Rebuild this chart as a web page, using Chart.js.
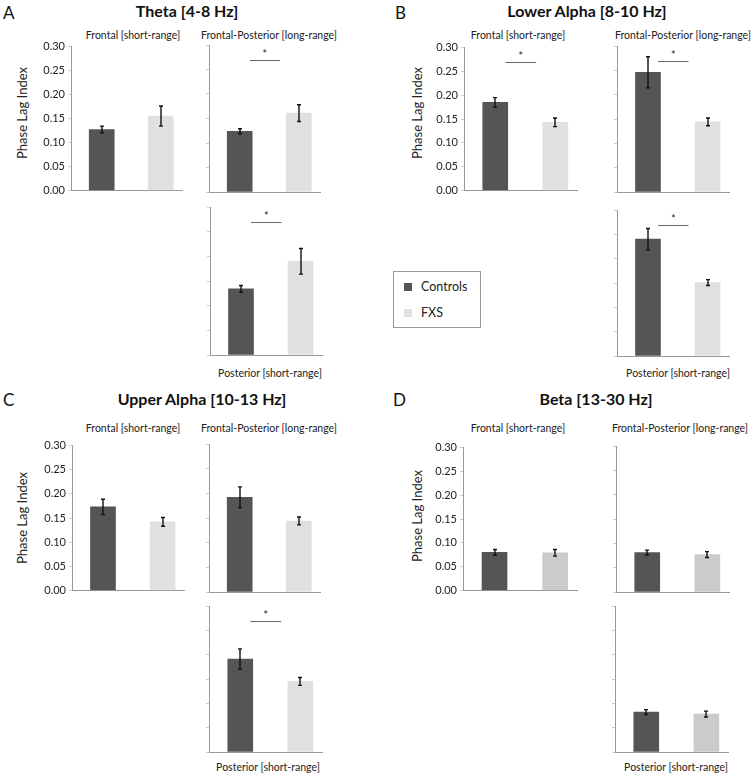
<!DOCTYPE html>
<html>
<head>
<meta charset="utf-8">
<script src="https://cdn.jsdelivr.net/npm/chart.js@4"></script>
<style>
body { margin: 0; background: #fff; font-family: Lato, sans-serif; }
#fig { position: relative; width: 753px; height: 776px; overflow: hidden; }
.t { position: absolute; white-space: nowrap; color: #111; line-height: 1; }
.letter { font-size: 17px; transform: translateY(-50%); }
.title { font-size: 16px; font-weight: bold; transform: translate(-50%, -50%); }
.sub { font-size: 10.5px; transform: translate(-50%, -50%); color: #222; }
.ylab { font-size: 13px; transform: translate(-50%, -50%) rotate(-90deg); color: #222; }
canvas { position: absolute; }
#legend { position: absolute; left: 393px; top: 271px; width: 86px; height: 55px; border: 1px solid #999; }
#legend .sq { position: absolute; width: 8px; height: 8px; left: 10px; }
#legend .lt { position: absolute; left: 27px; font-size: 12.5px; color: #222; transform: translateY(-50%); }
</style>
</head>
<body>
<div id="fig">
  <div id="legend">
    <div class="sq" style="top:11px;background:#555555"></div><div class="lt" style="top:14px">Controls</div>
    <div class="sq" style="top:37px;background:#e0e0e0"></div><div class="lt" style="top:40px">FXS</div>
  </div>
</div>
<script>
// données
const letters = ['A', 'B', 'C', 'D'];
const bands = ['Theta [4-8 Hz]', 'Lower Alpha [8-10 Hz]', 'Upper Alpha [10-13 Hz]', 'Beta [13-30 Hz]'];
const regions = ['Frontal [short-range]', 'Frontal-Posterior [long-range]', 'Posterior [short-range]'];
const groups = ['Controls', 'FXS'];
const groupX = [1, 2];
const yTicks = [0, 0.05, 0.10, 0.15, 0.20, 0.25, 0.30];

// une ligne par bande : [frontal, fronto-postérieur, postérieur]
const controlsMean = [[0.127, 0.124, 0.134], [0.185, 0.246, 0.240], [0.173, 0.192, 0.191], [0.080, 0.081, 0.082]];
const controlsErr  = [[0.007, 0.005, 0.007], [0.010, 0.032, 0.022], [0.016, 0.021, 0.021], [0.006, 0.005, 0.005]];
const fxsMean      = [[0.155, 0.161, 0.190], [0.143, 0.144, 0.151], [0.142, 0.144, 0.145], [0.079, 0.077, 0.078]];
const fxsErr       = [[0.021, 0.017, 0.026], [0.009, 0.008, 0.006], [0.009, 0.008, 0.008], [0.007, 0.006, 0.006]];
const significant  = [[false, true, true], [true, true, true], [false, false, true], [false, false, false]];

// mise en page (pixels)
const controlsColor = '#555555';
const fxsColors = ['#e0e0e0', '#e0e0e0', '#e0e0e0', '#cbcbcb'];
const panels = [
  { letter: [3, 12], title: [187, 11], ylab: [22, 113], subs: [[133, 35], [269, 35], [270, 373]],
    plots: [{ ax: 71, top: 45, bottom: 192, right: 182 }, { ax: 209, top: 45, bottom: 192, right: 320 }, { ax: 210, top: 207, bottom: 355, right: 322 }] },
  { letter: [395, 12], title: [587, 11], ylab: [417, 113], subs: [[518, 35], [683, 35], [678, 373]],
    plots: [{ ax: 464, top: 46, bottom: 192, right: 577 }, { ax: 617, top: 46, bottom: 192, right: 729 }, { ax: 617, top: 210, bottom: 356, right: 729 }] },
  { letter: [3, 399], title: [202, 399], ylab: [22, 518], subs: [[133, 428], [269, 428], [268, 767]],
    plots: [{ ax: 72, top: 444, bottom: 592, right: 184 }, { ax: 209, top: 444, bottom: 592, right: 320 }, { ax: 209, top: 606, bottom: 752, right: 322 }] },
  { letter: [393, 399], title: [596, 399], ylab: [417, 516], subs: [[518, 428], [680, 428], [676, 767]],
    plots: [{ ax: 463, top: 446, bottom: 592, right: 577 }, { ax: 616, top: 446, bottom: 592, right: 729 }, { ax: 615, top: 606, bottom: 752, right: 728 }] }
];

const fig = document.getElementById('fig');

function addText(cls, txt, pos) {
  let d = document.createElement('div');
  d.className = 't ' + cls;
  d.textContent = txt;
  d.style.left = pos[0] + 'px';
  d.style.top = pos[1] + 'px';
  fig.appendChild(d);
}

// barres d'erreur
function errorBars(b, r) {
  return {
    id: 'errorBars',
    afterDatasetsDraw(chart) {
      let ctx = chart.ctx, ys = chart.scales.y;
      let means = [controlsMean[b][r], fxsMean[b][r]];
      let errs = [controlsErr[b][r], fxsErr[b][r]];
      ctx.save();
      ctx.strokeStyle = '#111';
      ctx.lineWidth = 1.4;
      chart.getDatasetMeta(0).data.forEach((bar, i) => {
        let x = Math.round(bar.x);
        let y1 = ys.getPixelForValue(means[i] + errs[i]);
        let y2 = ys.getPixelForValue(means[i] - errs[i]);
        ctx.beginPath();
        ctx.moveTo(x, y1); ctx.lineTo(x, y2);
        ctx.moveTo(x - 2, y1); ctx.lineTo(x + 2, y1);
        ctx.moveTo(x - 2, y2); ctx.lineTo(x + 2, y2);
        ctx.stroke();
      });
      ctx.restore();
    }
  };
}

// trait + étoile de significativité
function sigMark(b, r) {
  return {
    id: 'sigMark',
    afterDraw(chart) {
      if (!significant[b][r]) return;
      let ctx = chart.ctx, xs = chart.scales.x, ys = chart.scales.y;
      let x1 = xs.getPixelForValue(1.17), x2 = xs.getPixelForValue(1.68);
      let y = Math.round(ys.getPixelForValue(0.27)) + 0.5;
      ctx.save();
      ctx.strokeStyle = '#666';
      ctx.lineWidth = 1;
      ctx.beginPath(); ctx.moveTo(x1, y); ctx.lineTo(x2, y); ctx.stroke();
      ctx.fillStyle = '#222';
      ctx.font = '11px Lato';
      ctx.textAlign = 'center';
      ctx.textBaseline = 'middle';
      ctx.fillText('*', (x1 + x2) / 2, y - 6);
      ctx.restore();
    }
  };
}

function makePlot(b, r, pos) {
  let labeled = r === 0;
  let yw = labeled ? 40 : 4;
  let plotW = pos.right - pos.ax, plotH = pos.bottom - pos.top;
  let cv = document.createElement('canvas');
  cv.width = yw + plotW + 4;
  cv.height = plotH + 16;
  cv.style.left = (pos.ax - yw) + 'px';
  cv.style.top = (pos.top - 8) + 'px';
  fig.appendChild(cv);

  new Chart(cv, {
    type: 'bar',
    data: {
      datasets: [{
        label: regions[r],
        data: [{ x: groupX[0], y: controlsMean[b][r] }, { x: groupX[1], y: fxsMean[b][r] }],
        backgroundColor: [controlsColor, fxsColors[b]],
        borderWidth: 0,
        barThickness: 25
      }]
    },
    options: {
      responsive: false,
      animation: false,
      devicePixelRatio: 1,
      layout: { padding: { top: 8, bottom: 8, left: 0, right: 4 } },
      plugins: { legend: { display: false }, tooltip: { enabled: false } },
      scales: {
        x: {
          type: 'linear', min: 0.48, max: 2.36, offset: false,
          ticks: { display: false },
          grid: { display: false, drawTicks: false },
          border: { color: '#999', width: 1 },
          afterFit: s => { s.height = 0; }
        },
        y: {
          min: 0, max: 0.3,
          afterBuildTicks: s => { s.ticks = yTicks.map(v => ({ value: v })); },
          ticks: { display: labeled, callback: v => v.toFixed(2), color: '#222', padding: 3, font: { family: 'Lato', size: 11 } },
          grid: { drawOnChartArea: false, tickLength: 3, color: '#ccc' },
          border: { color: '#999', width: 1 },
          afterFit: s => { s.width = yw; }
        }
      }
    },
    plugins: [errorBars(b, r), sigMark(b, r)]
  });
}

panels.forEach((p, b) => {
  addText('letter', letters[b], p.letter);
  addText('title', bands[b], p.title);
  addText('ylab', 'Phase Lag Index', p.ylab);
  p.subs.forEach((s, r) => addText('sub', regions[r], s));
  p.plots.forEach((pos, r) => makePlot(b, r, pos));
});
</script>
</body>
</html>
